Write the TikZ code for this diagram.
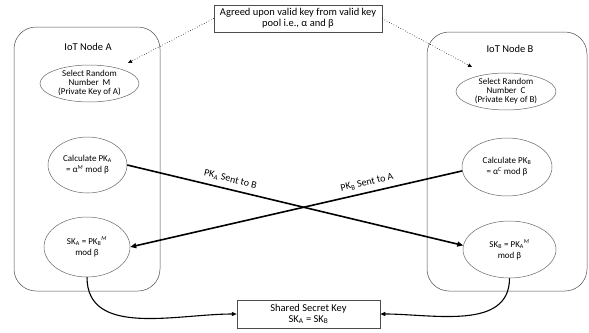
\documentclass[tikz,border=0pt]{standalone}
\usepackage{fontspec}
\setmainfont{Carlito}
\usetikzlibrary{shapes.geometric,arrows.meta}

\tikzset{
  oval/.style={ellipse, draw=black!60, line width=0.5pt, inner sep=0pt, align=center,
    font=\fontsize{9}{9}\selectfont},
  keybox/.style={draw=black!70, line width=0.5pt, align=center, inner sep=0pt,
    font=\fontsize{10.5}{10.5}\selectfont},
  iotnode/.style={draw=black!70, line width=0.5pt, rounded corners=22pt},
  sendline/.style={line width=1.6pt, -{Triangle[length=6pt,width=5pt]}},
  shareline/.style={line width=1.1pt, -{Triangle[length=5pt,width=4pt]}},
  poolline/.style={line width=0.6pt, dotted, -{Triangle[length=4pt,width=3.5pt]}},
  sentlabel/.style={sloped, above=4pt, inner sep=1pt, font=\fontsize{10}{10}\selectfont}
}

\begin{document}
\begin{tikzpicture}[x=1pt,y=-1pt]
  \useasboundingbox (0,0) rectangle (589,332);

  % the two IoT nodes
  \node[iotnode, minimum width=146pt, minimum height=264pt](nodeA) at (87,159) {};
  \node[font=\fontsize{10.5}{12}\selectfont](titleA) at (88,47) {IoT Node A};
  \node[iotnode, minimum width=160pt, minimum height=259pt](nodeB) at (507,161.5) {};
  \node[font=\fontsize{10.5}{12}\selectfont](titleB) at (510,49) {IoT Node B};

  \node[oval, minimum width=99pt, minimum height=37pt](selA) at (89.5,83.5)
    {Select Random\\Number~ M\\(Private Key of A)};
  \node[oval, font=\fontsize{9}{11}\selectfont, minimum width=79pt, minimum height=56pt](pkA) at (87.5,165)
    {Calculate PK\textsubscript{A}\\= α\textsuperscript{\textit{M}} mod β};
  \node[oval, font=\fontsize{9}{11}\selectfont, minimum width=86pt, minimum height=60pt](skA) at (87,247)
    {SK\textsubscript{A} = PK\textsubscript{B}\textsuperscript{\textit{M}}\\mod β};

  \node[oval, minimum width=100pt, minimum height=37pt](selB) at (506,91.5)
    {Select Random\\Number~ C\\(Private Key of B)};
  \node[oval, font=\fontsize{9}{11}\selectfont, minimum width=90pt, minimum height=58pt](pkB) at (507,167)
    {Calculate PK\textsubscript{B}\\= α\textsuperscript{\textit{C}} mod β};
  \node[oval, font=\fontsize{9}{11}\selectfont, minimum width=93pt, minimum height=57pt](skB) at (509.5,249.5)
    {SK\textsubscript{B} = PK\textsubscript{A}\textsuperscript{\textit{M}}\\mod β};

  \node[keybox, minimum width=168pt, minimum height=27pt](pool) at (298,18.5)
    {Agreed upon valid key from valid key\\pool i.e., α and β};
  \node[keybox, minimum width=143pt, minimum height=28pt](shared) at (308.5,314)
    {Shared Secret Key\\SK\textsubscript{A} = SK\textsubscript{B}};

  \coordinate (pinA) at (128,63);
  \coordinate (pinB) at (472,67);
  \draw[poolline] (pool.west) -- (pinA);
  \draw[poolline] (pool.east) -- (pinB);

  \draw[sendline] (pkA.east) -- node[sentlabel, pos=0.3] {PK\textsubscript{A} Sent to B} (skB.175);
  \draw[sendline] (pkB.185) -- node[sentlabel, pos=0.28] {PK\textsubscript{B} Sent to A} (skA.east);

  \draw[shareline] (skA.south) to[out=-90, in=180] (shared.west);
  \draw[shareline] (skB.south) to[out=-90, in=0] (shared.east);
\end{tikzpicture}
\end{document}
